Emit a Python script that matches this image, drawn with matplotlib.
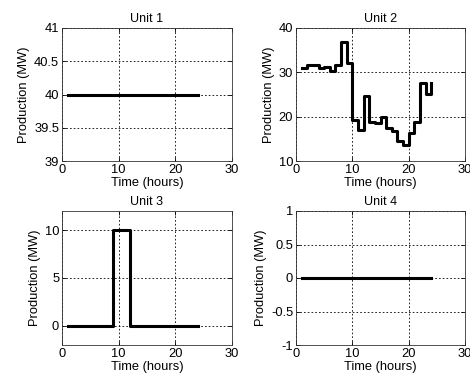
import matplotlib
matplotlib.use("Agg")
import matplotlib.pyplot as plt
import numpy as np

plt.rcParams["font.family"] = ["Liberation Sans", "DejaVu Sans"]
plt.rcParams["font.size"] = 9

hours = np.arange(1, 25)

unit1 = [40] * 24
unit2 = [30.9, 31.6, 31.6, 31.0, 31.1, 30.4, 31.7, 36.8, 32.1, 19.3, 17.0, 24.6,
         18.8, 18.5, 20.0, 17.5, 16.8, 14.6, 13.7, 16.4, 18.7, 27.7, 25.2, 27.5]
unit3 = [0, 0, 0, 0, 0, 0, 0, 0, 10, 10, 10, 0,
         0, 0, 0, 0, 0, 0, 0, 0, 0, 0, 0, 0]
unit4 = [0] * 24

titles = ["Unit 1", "Unit 2", "Unit 3", "Unit 4"]
series = [unit1, unit2, unit3, unit4]
ylims = [(39, 41), (10, 40), (-2, 12), (-1, 1)]
yticks = [
    ([39, 39.5, 40, 40.5, 41], ["39", "39.5", "40", "40.5", "41"]),
    ([10, 20, 30, 40], ["10", "20", "30", "40"]),
    ([0, 5, 10], ["0", "5", "10"]),
    ([-1, -0.5, 0, 0.5, 1], ["-1", "-0.5", "0", "0.5", "1"]),
]
xticks = [0, 10, 20, 30]

W, H = 470, 381
fig = plt.figure(figsize=(W / 100, H / 100), dpi=100)

# axes boxes in pixels: left, top, right, bottom
boxes = [
    (62, 28, 232, 161),
    (296, 28, 465, 161),
    (62, 211, 232, 345),
    (296, 211, 465, 345),
]

for box, title, vals, ylim, (yt, ytl) in zip(boxes, titles, series, ylims, yticks):
    l, t, r, b = box
    ax = fig.add_axes([l / W, 1 - b / H, (r - l) / W, (b - t) / H])
    ax.step(hours, vals, where="post", color="black", linewidth=2.2)
    ax.set_xlim(0, 30)
    ax.set_ylim(*ylim)
    ax.set_xticks(xticks)
    ax.set_yticks(yt)
    ax.set_yticklabels(ytl)
    ax.grid(True, color="black", linestyle=(0, (2, 2.5)), linewidth=0.6)
    ax.tick_params(direction="in", length=3, width=0.6, labelsize=9.3, pad=2,
                   top=True, right=True)
    for sp in ax.spines.values():
        sp.set_linewidth(0.6)
        sp.set_color("#333333")
    ax.set_title(title, fontsize=9, pad=4)
    ax.set_xlabel("Time (hours)", fontsize=9.3, labelpad=1)
    ax.set_ylabel("Production (MW)", fontsize=9.3, labelpad=3)

fig.savefig("out.png", dpi=100)
